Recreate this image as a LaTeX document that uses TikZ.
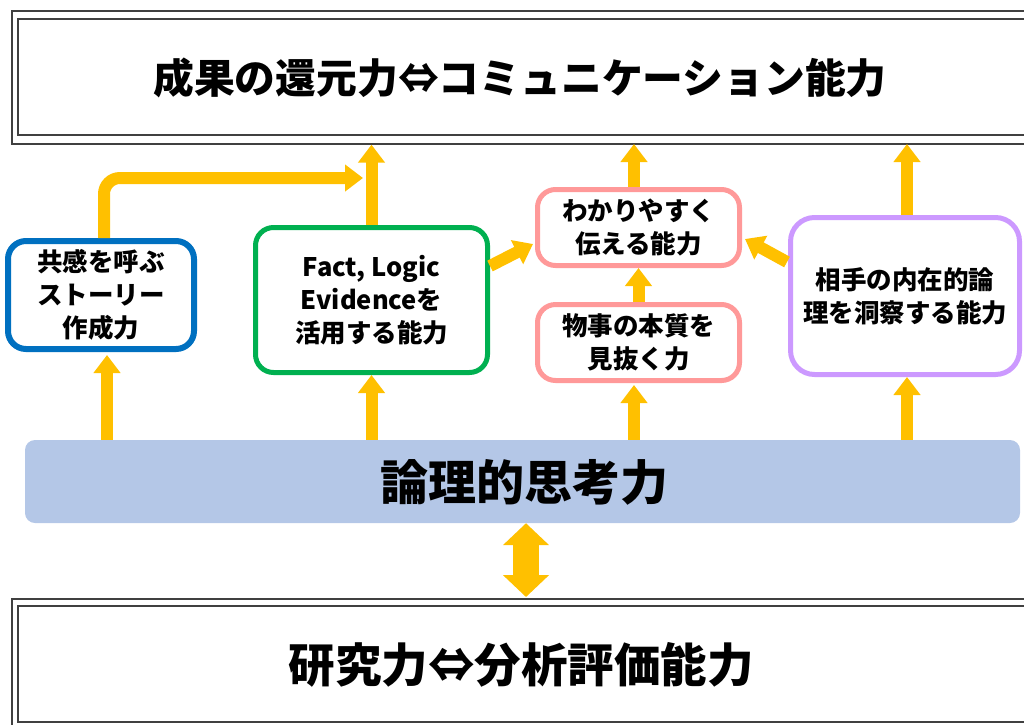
\documentclass[tikz,border=0pt]{standalone}
\usepackage{fontspec}
\setmainfont{Noto Sans CJK JP}
\usetikzlibrary{arrows.meta}
\definecolor{ayellow}{HTML}{FFC000}
\definecolor{bblue}{HTML}{0070C0}
\definecolor{bgreen}{HTML}{00B050}
\definecolor{bpink}{HTML}{FF9999}
\definecolor{bpurple}{HTML}{CC99FF}
\definecolor{basefill}{HTML}{B4C7E7}
\begin{document}
\begin{tikzpicture}[x=1pt,y=-1pt,
  frameline/.style={draw=black!75, line width=1.3pt, minimum width=#1, inner sep=0pt},
  abox/.style={draw=#1, line width=5pt, rounded corners=18pt, fill=white, align=center,
     font=\fontsize{25.5}{33}\selectfont\bfseries, inner sep=0pt},
  yarrow/.style={draw=ayellow, line width=12pt, -{Triangle[width=26pt,length=18pt]}},
  bigtext/.style={font=\fontsize{#1}{#1}\selectfont\bfseries, inner sep=0pt}
]
\useasboundingbox (0,0) rectangle (1024,724);
\clip (0,0) rectangle (1024,724);
% top double frame
\node[frameline=1030pt, minimum height=133pt] (topouter) at (527,77.5) {};
\node[frameline=1020pt, minimum height=116pt] (topinner) at (528,77) {};
\node[bigtext=40.8] (toptext) at (520,78) {成果の還元力⇔コミュニケーション能力};
% bottom double frame
\node[frameline=1030pt, minimum height=140pt] (botouter) at (527,669) {};
\node[frameline=1020pt, minimum height=116pt] (botinner) at (528,664) {};
\node[bigtext=46.5] (bottext) at (521,665) {研究力⇔分析評価能力};
% base
\node[fill=basefill, rounded corners=10pt, minimum width=995pt, minimum height=83pt, inner sep=0pt] (base) at (522.5,481.5) {};
\node[bigtext=48] (basetext) at (524,482) {論理的思考力};
% boxes
\node[abox=bblue, line width=6pt, minimum width=186pt, minimum height=108pt] (story) at (101,295) {共感を呼ぶ\\ストーリー\\作成力};
\node[abox=bgreen, minimum width=232pt, minimum height=145pt] (fact) at (371.5,300) {Fact, Logic\\Evidenceを\\活用する能力};
\node[abox=bpink, minimum width=202pt, minimum height=76pt] (tell) at (638.5,227.5) {わかりやすく\\伝える能力};
\node[abox=bpink, minimum width=202pt, minimum height=76pt] (essence) at (638.5,342.5) {物事の本質を\\見抜く力};
\node[abox=bpurple, minimum width=229pt, minimum height=157pt, rounded corners=24pt] (insight) at (905,296) {相手の内在的論\\理を洞察する能力};
% arrows from base
\draw[yarrow] (base.north -| 107,0) -- (107,355);
\draw[yarrow] (base.north -| fact.south) -- (fact.south);
\draw[yarrow] (base.north -| 634,0) -- (634,385);
\draw[yarrow] (base.north -| 907,0) -- (907,377);
% arrows to top
\draw[yarrow] (fact.north) -- (fact.north |- topouter.south);
\draw[yarrow] (tell.north -| 634,0) -- (634,144);
\draw[yarrow] (insight.north -| 907,0) -- (907,144);
% curved arrow
\coordinate (curveend) at (363,178);
\draw[yarrow, rounded corners=16pt] ([xshift=3pt]story.north) |- (curveend);
% middle arrows
\draw[yarrow] (essence.north) -- (tell.south);
\coordinate (gstart) at (490,266);
\coordinate (gend) at (533,244);
\draw[yarrow] (gstart) -- (gend);
\coordinate (pstart) at (787,262);
\coordinate (pend) at (745,239);
\draw[yarrow] (pstart) -- (pend);
% double arrow
\draw[draw=ayellow, line width=26pt, {Triangle[width=45pt,length=22pt]}-{Triangle[width=45pt,length=22pt]}] (base.south -| 526,0) -- (526,597);
\end{tikzpicture}
\end{document}
